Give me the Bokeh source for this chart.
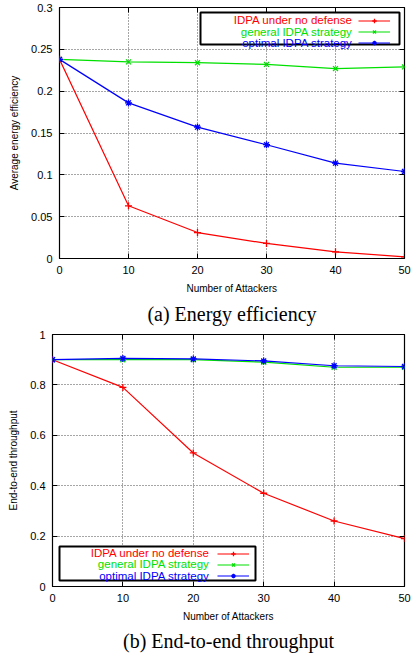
from bokeh.plotting import figure
from bokeh.models import (FixedTicker, Legend, LegendItem, Label, BoxAnnotation,
                          Title, Range1d, LinearAxis)
from bokeh.layouts import column
from bokeh.embed import file_html
from bokeh.resources import INLINE

# ---------------- data ----------------
attackers = [0, 10, 20, 30, 40, 50]

ee_no_defense = [0.238, 0.063, 0.031, 0.018, 0.008, 0.002]
ee_general = [0.238, 0.235, 0.234, 0.232, 0.227, 0.229]
ee_optimal = [0.238, 0.186, 0.157, 0.136, 0.114, 0.104]

tp_no_defense = [0.90, 0.79, 0.53, 0.37, 0.26, 0.19]
tp_general = [0.90, 0.90, 0.90, 0.89, 0.87, 0.87]
tp_optimal = [0.90, 0.905, 0.903, 0.895, 0.876, 0.873]

series_names = ["IDPA under no defense", "general IDPA strategy", "optimal IDPA strategy"]

x_ticks = [0, 10, 20, 30, 40, 50]
ee_ticks = [0, 0.05, 0.1, 0.15, 0.2, 0.25, 0.3]
ee_tick_labels = ["0", "0.05", "0.1", "0.15", "0.2", "0.25", "0.3"]
tp_ticks = [0, 0.2, 0.4, 0.6, 0.8, 1]
tp_tick_labels = ["0", "0.2", "0.4", "0.6", "0.8", "1"]

x_label = "Number of Attackers"
ee_label = "Average energy efficiency"
tp_label = "End-to-end throughput"
ee_caption = "(a) Energy efficiency"
tp_caption = "(b) End-to-end throughput"

# ---------------- style ----------------
COLORS = ["#ff0000", "#00e000", "#0000ff"]
MARKERS = ["cross", "x", "asterisk"]
SANS = "Liberation Sans"
SERIF = "Liberation Serif"


def make_plot(series, ylabel, yticks, ylabels, ymax, caption, height,
              frame_left, frame_top, frame_bottom_border, caption_standoff,
              legend_box, text_right, sample_left, row_ys):
    p = figure(width=411, height=height, output_backend="svg", toolbar_location=None,
               x_range=Range1d(0, 50), y_range=Range1d(0, ymax),
               min_border_top=frame_top, min_border_right=7, min_border_left=frame_left,
               min_border_bottom=frame_bottom_border)
    p.frame_align = False
    p.background_fill_color = "white"
    p.border_fill_color = "white"
    p.outline_line_color = "black"
    p.outline_line_width = 1.2

    for ax in (p.xaxis[0], p.yaxis[0]):
        ax.axis_line_color = None
        ax.major_tick_in = 5
        ax.major_tick_out = 0
        ax.minor_tick_line_color = None
        ax.major_tick_line_color = "black"
        ax.major_label_text_font = SANS
        ax.major_label_text_font_size = "11px"
        ax.major_label_text_color = "black"
        ax.axis_label_text_font = SANS
        ax.axis_label_text_font_size = "10px"
        ax.axis_label_text_font_style = "normal"
        ax.axis_label_text_color = "black"
        ax.major_label_standoff = 7
        ax.axis_label_standoff = 6
    p.yaxis.axis_label_standoff = 8

    p.xaxis.ticker = FixedTicker(ticks=x_ticks)
    p.yaxis.ticker = FixedTicker(ticks=yticks)
    p.yaxis.major_label_overrides = {t: l for t, l in zip(yticks, ylabels)}
    p.xaxis.axis_label = x_label
    p.yaxis.axis_label = ylabel

    # mirrored ticks on top / right (no labels)
    for side in ("above", "right"):
        tks = x_ticks if side == "above" else yticks
        ax = LinearAxis(ticker=FixedTicker(ticks=tks),
                        axis_line_color=None, major_tick_in=5, major_tick_out=0,
                        minor_tick_line_color=None,
                        major_label_overrides={t: "" for t in tks},
                        major_label_standoff=0)
        p.add_layout(ax, side)

    p.xgrid.ticker = FixedTicker(ticks=x_ticks)
    p.ygrid.ticker = FixedTicker(ticks=yticks)
    for g in (p.xgrid[0], p.ygrid[0]):
        g.grid_line_color = "black"
        g.grid_line_alpha = 0.7
        g.grid_line_dash = "1 2"
        g.grid_line_width = 1

    items = []
    for ys, c, m in zip(series, COLORS, MARKERS):
        lr = p.line(attackers, ys, line_color=c, line_width=1.2)
        sr = p.scatter(attackers, ys, marker=m, size=7, line_color=c, fill_color=c,
                       line_width=1.3)
        items.append(LegendItem(label=" ", renderers=[lr, sr]))

    # legend box
    l, r, t, b = legend_box
    p.add_layout(BoxAnnotation(left=l, right=r, top=t, bottom=b,
                               left_units="screen", right_units="screen",
                               top_units="screen", bottom_units="screen",
                               fill_color="white", fill_alpha=1.0,
                               line_color="black", line_width=2, line_alpha=1.0,
                               level="overlay"))
    for name, c, yy in zip(series_names, COLORS, row_ys):
        p.add_layout(Label(x=text_right, y=yy, x_units="screen", y_units="screen",
                           text=name, text_color=c, text_font=SANS,
                           text_font_size="11.5px", text_align="right",
                           text_baseline="middle", level="overlay"))
    leg = Legend(items=items, location=(sample_left, row_ys[-1] - 6),
                 glyph_width=32, glyph_height=11, label_height=11, label_width=0,
                 label_standoff=0, label_text_font_size="9px", padding=0, spacing=0,
                 margin=0, border_line_alpha=0, background_fill_alpha=0)
    p.add_layout(leg)

    p.add_layout(Title(text=caption, align="center", text_font=SERIF,
                       text_font_size="20px", text_font_style="normal",
                       text_color="black", standoff=caption_standoff), "below")
    return p


p1 = make_plot([ee_no_defense, ee_general, ee_optimal], ee_label, ee_ticks,
               ee_tick_labels, 0.3, ee_caption, height=328, frame_left=59, frame_top=7,
               frame_bottom_border=70, caption_standoff=8,
               legend_box=(141, 340, 246, 214), text_right=293, sample_left=299,
               row_ys=[239, 227, 216])
p2 = make_plot([tp_no_defense, tp_general, tp_optimal], tp_label, tp_ticks,
               tp_tick_labels, 1.0, tp_caption, height=329, frame_left=52, frame_top=6,
               frame_bottom_border=71, caption_standoff=7,
               legend_box=(7, 203, 40, 6), text_right=157, sample_left=165,
               row_ys=[34, 23, 11])

layout = column(p1, p2, spacing=0)
open("out.html", "w").write(file_html(layout, INLINE))
